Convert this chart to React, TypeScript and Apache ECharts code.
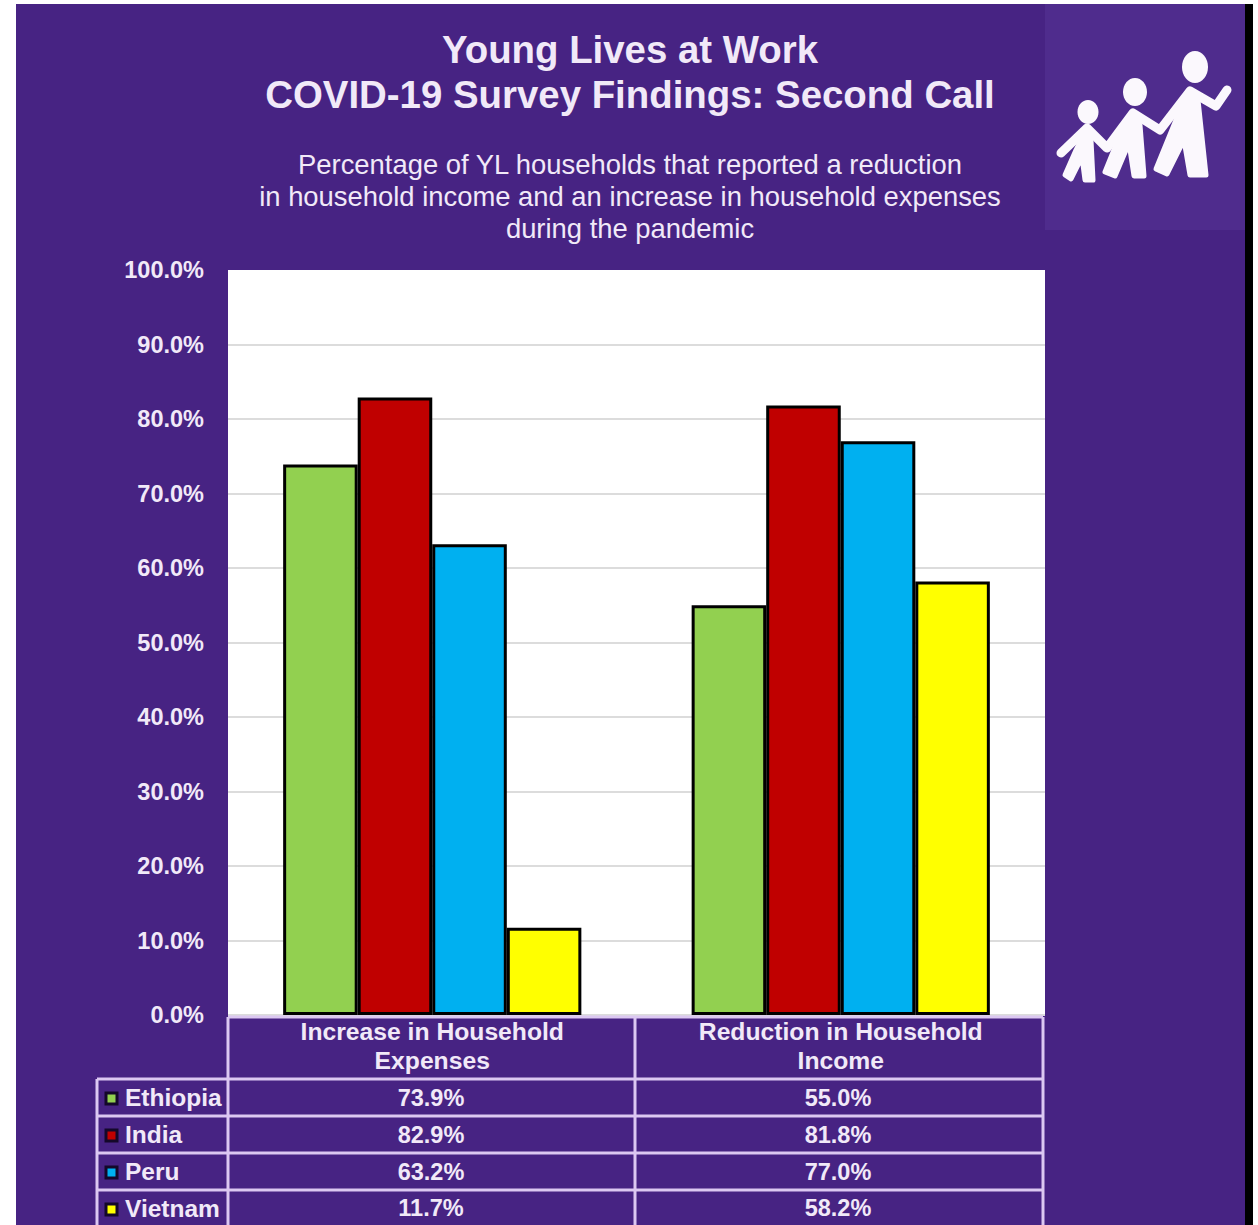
import React, { useEffect, useRef } from "react";
import * as echarts from "echarts";

const titleLines = ["Young Lives at Work", "COVID-19 Survey Findings: Second Call"];
const subtitleLines = [
  "Percentage of YL households that reported a reduction",
  "in household income and an increase in household expenses",
  "during the pandemic",
];
const categories = ["Increase in Household\nExpenses", "Reduction in Household\nIncome"];
const seriesNames = ["Ethiopia", "India", "Peru", "Vietnam"];
const ethiopia = [73.9, 55.0];
const india = [82.9, 81.8];
const peru = [63.2, 77.0];
const vietnam = [11.7, 58.2];
const seriesValues = [ethiopia, india, peru, vietnam];
const seriesColors = ["#92D050", "#C00000", "#00B0F0", "#FFFF00"];

const FONT = "'Liberation Sans', Arial, sans-serif";
const PURPLE = "#472383";
const LILAC = "#dcc8f2";
const TEXT = "#f1e9f8";
const rowLines = [1079, 1116, 1153, 1190];
const legendY = [1097, 1134, 1171, 1208];
const valueY = [1098, 1135, 1172, 1208];
const valueX = [431, 838];

function vLine(x: number, y1: number, y2: number) {
  return { type: "line", z: 10, shape: { x1: x, y1, x2: x, y2 }, style: { stroke: LILAC, lineWidth: 3 } };
}
function hLine(y: number, x1: number, x2: number) {
  return { type: "line", z: 10, shape: { x1, y1: y, x2, y2: y }, style: { stroke: LILAC, lineWidth: 3 } };
}
function label(text: string, x: number, y: number, size: number, weight: string, align = "center") {
  return {
    type: "text",
    z: 10,
    x,
    y,
    style: { text, fill: TEXT, font: `${weight} ${size}px ${FONT}`, align, verticalAlign: "middle" },
  };
}

function logo() {
  const white = "#fbf8fd";
  const ellipse = (cx: number, cy: number, rx: number, ry: number) => ({
    type: "ellipse",
    z: 11,
    shape: { cx, cy, rx, ry },
    style: { fill: white },
  });
  const body = (points: number[][]) => ({
    type: "polygon",
    z: 11,
    shape: { points },
    style: { fill: white, stroke: white, lineWidth: 5, lineJoin: "round" },
  });
  return [
    { type: "rect", z: 0, shape: { x: 1045, y: 4, width: 200, height: 226 }, style: { fill: "#4f2c8d" } },
    ellipse(1195, 67, 13, 16),
    ellipse(1135, 92, 12, 14),
    ellipse(1088, 112, 10.5, 12),
    {
      type: "polyline",
      z: 11,
      shape: {
        points: [
          [1227, 90],
          [1216, 106],
          [1190, 91],
          [1160, 130],
          [1133, 113],
          [1107, 148],
          [1087, 128],
          [1061, 153],
        ],
      },
      style: { stroke: white, lineWidth: 9, lineJoin: "round", lineCap: "round", fill: "none" },
    },
    body([[1188, 92], [1198, 100], [1206, 175], [1190, 175], [1184, 140], [1167, 174], [1156, 169], [1176, 120]]),
    body([[1133, 113], [1140, 125], [1144, 176], [1134, 176], [1129, 143], [1115, 176], [1105, 172], [1120, 135]]),
    body([[1086, 130], [1091, 140], [1093, 180], [1085, 180], [1082, 157], [1071, 179], [1065, 175], [1076, 150]]),
  ];
}

export default function App() {
  const ref = useRef<HTMLDivElement>(null);
  useEffect(() => {
    document.body.style.margin = "0";
    document.body.style.overflow = "hidden";
    const chart = echarts.init(ref.current!, undefined, { renderer: "svg" });
    const graphicElements: any[] = [
      { type: "rect", z: 0, shape: { x: 16, y: 4, width: 1229, height: 1221 }, style: { fill: PURPLE } },
      { type: "rect", z: 0, shape: { x: 1245, y: 4, width: 8, height: 1221 }, style: { fill: "#000000" } },
      ...logo(),
      label(titleLines[0], 630, 49, 38.4, "bold"),
      label(titleLines[1], 630, 94, 38.4, "bold"),
      ...subtitleLines.map((t, i) => label(t, 630, 164 + i * 32, 27.4, "normal")),
      hLine(1017, 228, 1043),
      ...rowLines.map((y) => hLine(y, 97, 1043)),
      vLine(97, 1079, 1225),
      vLine(228, 1017, 1225),
      vLine(635, 1017, 1225),
      vLine(1043, 1017, 1225),
    ];
    seriesNames.forEach((name, i) => {
      graphicElements.push({
        type: "rect",
        z: 10,
        shape: { x: 106, y: legendY[i] - 4, width: 11, height: 11 },
        style: { fill: seriesColors[i], stroke: "#14082a", lineWidth: 3 },
      });
      graphicElements.push(label(name, 125, legendY[i], 24.5, "bold", "left"));
      seriesValues[i].forEach((v, c) => {
        graphicElements.push(label(v.toFixed(1) + "%", valueX[c], valueY[i], 23.5, "bold"));
      });
    });
    chart.setOption({
      animation: false,
      backgroundColor: "#ffffff",
      graphic: { elements: graphicElements },
      grid: {
        left: 228,
        right: 213,
        top: 270,
        bottom: 210,
        show: true,
        backgroundColor: "#ffffff",
        borderWidth: 0,
        z: 1,
      },
      xAxis: {
        type: "category",
        data: categories,
        z: 2,
        axisLine: { show: false },
        axisTick: { show: false },
        axisLabel: {
          color: TEXT,
          fontFamily: FONT,
          fontWeight: "bold",
          fontSize: 24.7,
          lineHeight: 29,
          margin: 2,
          interval: 0,
        },
      },
      yAxis: {
        type: "value",
        min: 0,
        max: 100,
        interval: 10,
        z: 2,
        axisLine: { show: false },
        axisTick: { show: false },
        axisLabel: {
          color: TEXT,
          fontFamily: FONT,
          fontWeight: "bold",
          fontSize: 23.5,
          margin: 24,
          formatter: (v: number) => v.toFixed(1) + "%",
        },
        splitLine: { show: true, showMaxLine: false, lineStyle: { color: "#dcdcdc", width: 2 } },
      },
      series: seriesNames.map((name, i) => ({
        name,
        type: "bar",
        data: seriesValues[i],
        barGap: "0%",
        barCategoryGap: "27%",
        z: 3,
        itemStyle: { color: seriesColors[i], borderColor: "#000000", borderWidth: 3 },
      })),
    });
    return () => chart.dispose();
  }, []);
  return <div ref={ref} style={{ width: 1258, height: 1225 }} />;
}
